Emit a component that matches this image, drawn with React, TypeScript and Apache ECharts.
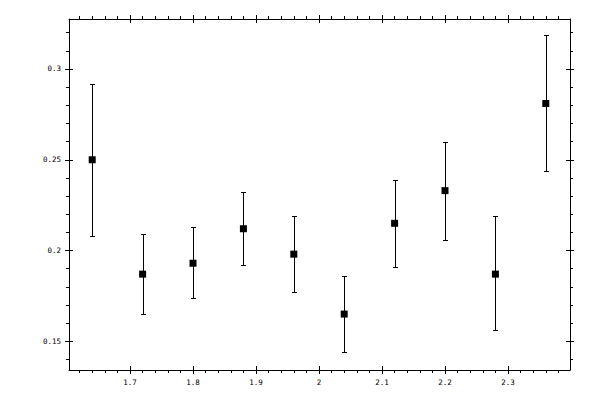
import React, { useEffect, useRef } from "react";
import * as echarts from "echarts";

const xValues = [1.64, 1.72, 1.8, 1.88, 1.96, 2.04, 2.12, 2.2, 2.28, 2.36];
const yValues = [0.25, 0.187, 0.193, 0.212, 0.198, 0.165, 0.215, 0.233, 0.187, 0.281];
const yUpper = [0.292, 0.209, 0.213, 0.232, 0.219, 0.186, 0.239, 0.26, 0.219, 0.319];
const yLower = [0.208, 0.165, 0.174, 0.192, 0.177, 0.144, 0.191, 0.206, 0.156, 0.244];

const xMajorTicks = [1.7, 1.8, 1.9, 2.0, 2.1, 2.2, 2.3];
const xMinorTicks = [
  1.62, 1.64, 1.66, 1.68, 1.72, 1.74, 1.76, 1.78, 1.82, 1.84, 1.86, 1.88,
  1.92, 1.94, 1.96, 1.98, 2.02, 2.04, 2.06, 2.08, 2.12, 2.14, 2.16, 2.18,
  2.22, 2.24, 2.26, 2.28, 2.32, 2.34, 2.36, 2.38,
];
const yMajorTicks = [0.15, 0.2, 0.25, 0.3];
const yMinorTicks = [
  0.14, 0.16, 0.17, 0.18, 0.19, 0.21, 0.22, 0.23, 0.24, 0.26, 0.27, 0.28,
  0.29, 0.31, 0.32,
];

const X_MIN = 1.60317;
const X_MAX = 2.39841;
const Y_MIN = 0.13419;
const Y_MAX = 0.32754;

const FONT = "DejaVu Sans Mono";

function makeAxes(kind: "x" | "y") {
  const isX = kind === "x";
  const positions = isX ? ["bottom", "top"] : ["left", "right"];
  const major = isX ? xMajorTicks : yMajorTicks;
  const minor = isX ? xMinorTicks : yMinorTicks;
  const axes: any[] = [];
  positions.forEach((pos, pi) => {
    const base = {
      type: "value",
      position: pos,
      min: isX ? X_MIN : Y_MIN,
      max: isX ? X_MAX : Y_MAX,
      splitLine: { show: false },
      minorTick: { show: false },
    };
    axes.push({
      ...base,
      axisLine: { show: true, onZero: false, lineStyle: { color: "#000", width: 1 } },
      axisTick: {
        show: true,
        inside: false,
        length: 4,
        customValues: major,
        lineStyle: { color: "#000", width: 1 },
      },
      axisLabel: {
        show: pi === 0,
        customValues: major,
        color: "#000",
        fontFamily: FONT,
        fontSize: 7.5,
        margin: 8,
      },
    });
    axes.push({
      ...base,
      axisLine: { show: false, onZero: false },
      axisTick: {
        show: true,
        inside: true,
        length: 4,
        customValues: major,
        lineStyle: { color: "#000", width: 1 },
      },
      axisLabel: { show: false },
    });
    axes.push({
      ...base,
      axisLine: { show: false, onZero: false },
      axisTick: {
        show: true,
        inside: false,
        length: 3,
        customValues: minor,
        lineStyle: { color: "#000", width: 1 },
      },
      axisLabel: { show: false },
    });
  });
  return axes;
}

export default function App() {
  const ref = useRef<HTMLDivElement>(null);
  useEffect(() => {
    if (!ref.current) return;
    const chart = echarts.init(ref.current, null, { renderer: "svg" });
    const errData = xValues.map((x, i) => [x, yUpper[i], yLower[i]]);
    const ptData = xValues.map((x, i) => [x, yValues[i]]);
    chart.setOption({
      animation: false,
      backgroundColor: "#fff",
      grid: { left: 69, right: 30, top: 19, bottom: 30, containLabel: false },
      xAxis: makeAxes("x"),
      yAxis: makeAxes("y"),
      series: [
        {
          type: "custom",
          xAxisIndex: 0,
          yAxisIndex: 0,
          data: errData,
          encode: { x: 0, y: [1, 2] },
          renderItem: (params: any, api: any) => {
            const x = api.value(0);
            const hi = api.coord([x, api.value(1)]);
            const lo = api.coord([x, api.value(2)]);
            const cx = Math.round(hi[0]) + 0.5;
            const yh = Math.round(hi[1]) + 0.5;
            const yl = Math.round(lo[1]) + 0.5;
            const w = 2.5;
            const style = { stroke: "#000", lineWidth: 1 };
            return {
              type: "group",
              children: [
                { type: "line", shape: { x1: cx, y1: yh, x2: cx, y2: yl }, style },
                { type: "line", shape: { x1: cx - w, y1: yh, x2: cx + w, y2: yh }, style },
                { type: "line", shape: { x1: cx - w, y1: yl, x2: cx + w, y2: yl }, style },
              ],
            };
          },
          z: 2,
        },
        {
          type: "scatter",
          xAxisIndex: 0,
          yAxisIndex: 0,
          data: ptData,
          symbol: "rect",
          symbolSize: 7,
          itemStyle: { color: "#000", opacity: 1 },
          z: 3,
        },
      ],
    });
    return () => chart.dispose();
  }, []);
  return (
    <div
      ref={ref}
      style={{ position: "fixed", left: 0, top: 0, width: 600, height: 400 }}
    />
  );
}
